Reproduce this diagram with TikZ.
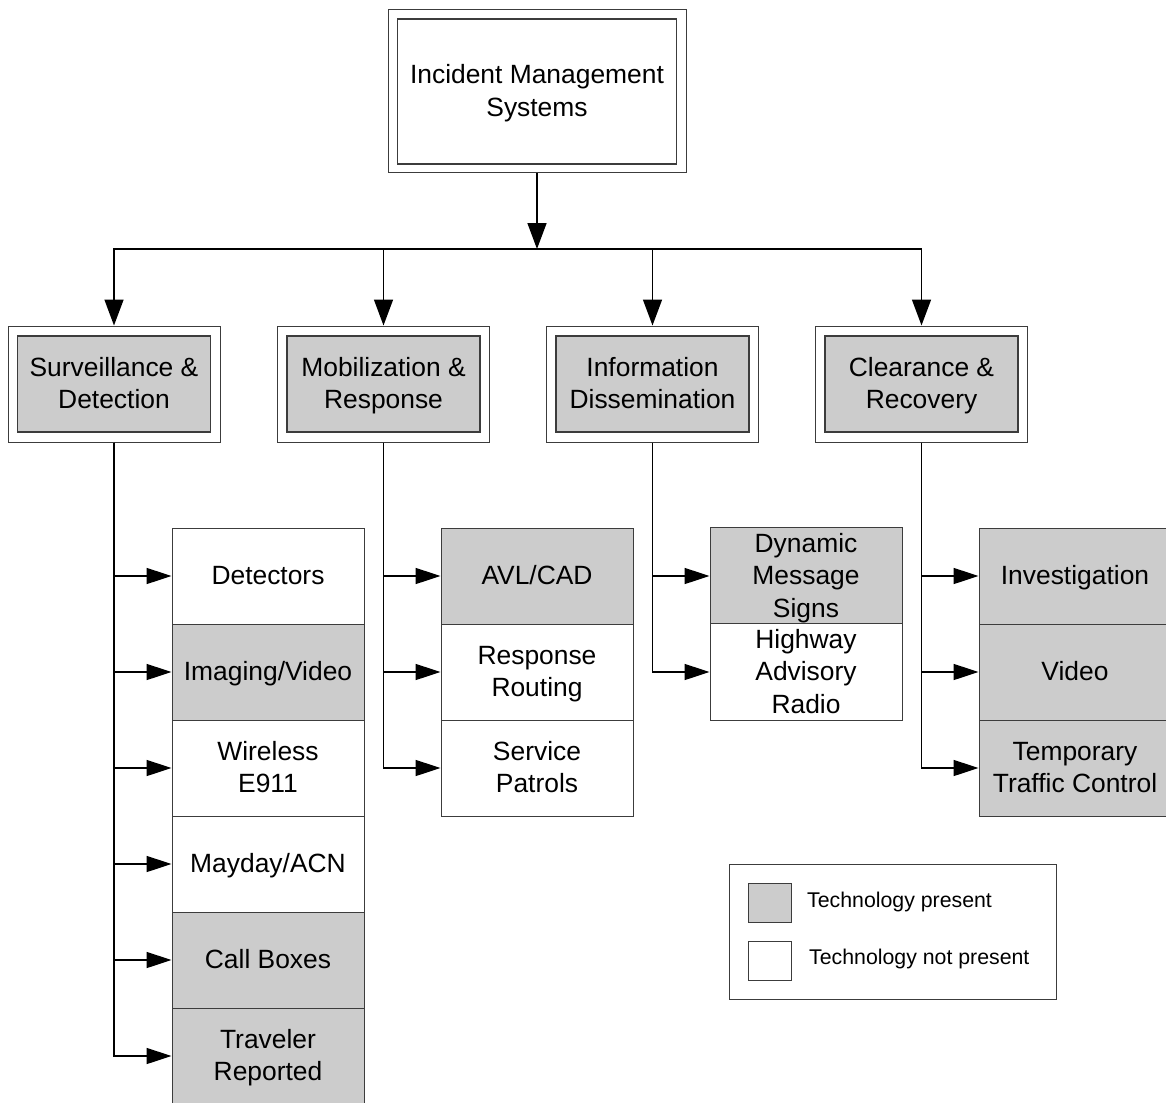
\documentclass[tikz,border=0pt]{standalone}
\usepackage{fontspec}
\setmainfont{Liberation Sans}
\usetikzlibrary{arrows.meta}
\definecolor{fillgray}{RGB}{204,204,204}
\definecolor{edgegray}{RGB}{60,60,60}
\newcommand{\st}{\rule[-7.5pt]{0pt}{32pt}}
\tikzset{
  outerbox/.style={draw=edgegray, line width=1pt, fill=white, inner sep=0pt},
  innerbox/.style={draw=edgegray, line width=1.3pt, inner sep=0pt, align=center,
     font=\fontsize{26.4}{32.5}\selectfont},
  leaf/.style={draw=edgegray, line width=1pt, inner sep=0pt, align=center,
     minimum width=192pt, minimum height=96pt,
     font=\fontsize{26.4}{32.5}\selectfont},
  present/.style={leaf, fill=fillgray},
  absent/.style={leaf, fill=white},
  conn/.style={line width=1.6pt, black},
  arr/.style={conn, -{Triangle[length=25pt,width=16pt]}},
  arrbig/.style={conn, -{Triangle[length=26pt,width=19pt]}},
  legtext/.style={anchor=west, inner sep=0pt, font=\fontsize{21.3}{26}\selectfont},
  swatch/.style={draw=edgegray, line width=1pt, minimum width=43pt, minimum height=39pt, inner sep=0pt}
}
\begin{document}
\begin{tikzpicture}[x=1pt,y=-1pt]
\useasboundingbox (0,0) rectangle (1166,1102);
% top box
\node[outerbox, minimum width=298pt, minimum height=163pt] (ims) at (537,91.5) {};
\node[innerbox, minimum width=279pt, minimum height=145pt] (imsin) at (ims.center) {\st Incident Management\\Systems\st};
% level 2
\foreach \nm/\x/\txt in {sd/114/{\st Surveillance \&\\Detection\st}, mr/383.5/{\st Mobilization \&\\Response\st}, id/652.5/{\st Information\\Dissemination\st}, cr/921.5/{\st Clearance \&\\Recovery\st}}{
  \node[outerbox, minimum width=212pt, minimum height=116pt] (\nm) at (\x,384) {};
  \node[innerbox, fill=fillgray, minimum width=193pt, minimum height=96pt] (\nm in) at (\nm.center) {\txt};
}
% leaves column 1
\node[absent]  (det)  at (268,576)  {\st Detectors};
\node[present] (img)  at (268,672)  {\st Imaging/Video};
\node[absent]  (wir)  at (268,768)  {\st Wireless\\E911\st};
\node[absent]  (may)  at (268,864)  {\st Mayday/ACN};
\node[present] (call) at (268,960)  {\st Call Boxes};
\node[present] (trav) at (268,1056) {\st Traveler\\Reported\st};
% column 2
\node[present] (avl)  at (537,576) {\st AVL/CAD};
\node[absent]  (rr)   at (537,672) {\st Response\\Routing\st};
\node[absent]  (sp)   at (537,768) {\st Service\\Patrols\st};
% column 3
\node[present] (dms)  at (806,576) {\st Dynamic\\Message\\Signs\st};
\node[absent]  (har)  at (806,672) {\st Highway\\Advisory\\Radio\st};
% column 4
\node[present] (inv)  at (1075,576) {\st Investigation};
\node[present] (vid)  at (1075,672) {\st Video};
\node[present] (ttc)  at (1075,768) {\st Temporary\\Traffic Control\st};
% connectors
\coordinate (bus) at (537,249);
\draw[arrbig] (ims.south) -- (bus);
\foreach \nm in {sd,mr,id,cr}{ \draw[arrbig] (bus) -| (\nm.north); }
\foreach \lf in {det,img,wir,may,call,trav}{ \draw[arr] (sd.south) |- (\lf.west); }
\foreach \lf in {avl,rr,sp}{ \draw[arr] (mr.south) |- (\lf.west); }
\foreach \lf in {dms,har}{ \draw[arr] (id.south) |- (\lf.west); }
\foreach \lf in {inv,vid,ttc}{ \draw[arr] (cr.south) |- (\lf.west); }
% legend
\node[draw=edgegray, line width=1pt, minimum width=327pt, minimum height=135pt, inner sep=0pt] (legend) at (892.5,931.5) {};
\node[swatch, fill=fillgray] (swp) at (769.5,902.5) {};
\node[swatch, fill=white] (swa) at (769.5,960.5) {};
\node[legtext] (lp) at (807,902) {Technology present};
\node[legtext] (la) at (809,959) {Technology not present};
\end{tikzpicture}
\end{document}
